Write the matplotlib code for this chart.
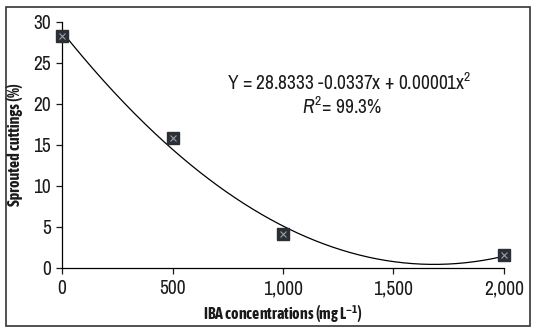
import matplotlib
matplotlib.use("Agg")
import matplotlib.pyplot as plt
import numpy as np
from matplotlib.patches import Rectangle

FONT = "Archivo Narrow"
BOLD_FONT = "Asap Condensed"
plt.rcParams["font.family"] = [FONT, "Liberation Sans", "DejaVu Sans"]
plt.rcParams["mathtext.fontset"] = "custom"
plt.rcParams["mathtext.rm"] = FONT
plt.rcParams["mathtext.it"] = FONT + ":italic"
plt.rcParams["mathtext.bf"] = BOLD_FONT + ":bold"

# data
iba = np.array([0, 500, 1000, 2000])
sprouted = np.array([28.3, 15.8, 4.1, 1.6])
xticks = [0, 500, 1000, 1500, 2000]
xticklabels = ["0", "500", "1,000", "1,500", "2,000"]
yticks = [0, 5, 10, 15, 20, 25, 30]

INK = "#1a1a1a"

fig = plt.figure(figsize=(5.35, 3.32), dpi=100)
fig.patches.append(Rectangle((0.012, 0.018), 0.978, 0.962, transform=fig.transFigure,
                             fill=False, edgecolor="#333333", linewidth=1.2))
ax = fig.add_axes([0.116, 0.193, 0.826, 0.741])

# quadratic trend fitted to the points
coef = np.polyfit(iba, sprouted, 2)
xs = np.linspace(0, 2000, 300)
ax.plot(xs, np.polyval(coef, xs), color="black", lw=0.9, zorder=2)
ax.plot(iba, sprouted, ls="none", marker="s", ms=8.5, mfc="#2b2f36", mec="#2b2f36", zorder=3,
        clip_on=False)
ax.plot(iba, sprouted, ls="none", marker="x", ms=5, mew=0.8, color="#9aa0a8", zorder=4,
        clip_on=False)

ax.set_xlim(0, 2000)
ax.set_ylim(0, 30)
ax.set_xticks(xticks)
ax.set_xticklabels(xticklabels)
ax.set_yticks(yticks)
for s in ["top", "right"]:
    ax.spines[s].set_visible(False)
for s in ["left", "bottom"]:
    ax.spines[s].set_color("black")
    ax.spines[s].set_linewidth(0.9)
ax.tick_params(direction="out", length=4, width=0.9, labelsize=14, colors=INK, pad=4)

bold = dict(family=[BOLD_FONT, "DejaVu Sans"], fontweight="bold", fontsize=11.5, color=INK)
ax.set_xlabel("IBA concentrations (mg L$^{\\mathbf{-1}}$)", labelpad=4, **bold)
ax.set_ylabel("Sprouted cuttings (%)", labelpad=7, **bold)

ax.text(0.373, 0.752, "Y = 28.8333 -0.0337x + 0.00001x$^2$", transform=ax.transAxes,
        fontsize=14, color=INK, ha="left", va="center")
ax.text(0.543, 0.655, "$R^2$= 99.3%", transform=ax.transAxes, fontsize=14, color=INK,
        ha="left", va="center")

fig.savefig("out.png", dpi=100, facecolor="white")
